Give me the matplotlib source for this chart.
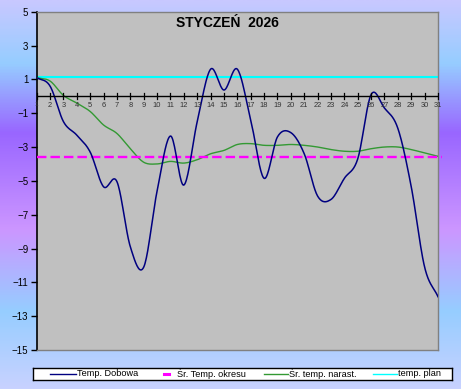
import numpy as np
import matplotlib
matplotlib.use("Agg")
import matplotlib.pyplot as plt
from matplotlib.colors import LinearSegmentedColormap

plt.rcParams['font.family'] = ['Liberation Sans', 'DejaVu Sans']
plt.rcParams['lines.scale_dashes'] = False

# Data
days = list(range(1, 32))
temp_dobowa = [1.1, 0.6, -1.5, -2.3, -3.3, -5.35, -5.05, -8.9, -10.1, -5.6,
               -2.35, -5.25, -1.5, 1.6, 0.37, 1.6, -1.4, -4.85, -2.4, -2.15,
               -3.4, -5.9, -6.1, -4.85, -3.7, 0.1, -0.7, -1.9, -5.35, -10.1,
               -11.85]
sr_narast = [1.1, 0.9, 0.05, -0.4, -0.9, -1.7, -2.2, -3.1, -3.9, -4.0,
             -3.85, -3.95, -3.75, -3.4, -3.2, -2.85, -2.8, -2.9, -2.9, -2.85,
             -2.9, -3.0, -3.15, -3.25, -3.25, -3.1, -3.0, -3.0, -3.15, -3.35,
             -3.55]
sr_okresu = -3.57
temp_plan = 1.15
title = "STYCZEŃ  2026"
labels = ["Temp. Dobowa", "Śr. Temp. okresu", "Śr. temp. narast.", "temp. plan"]


def smooth(x, y, n=20):
    # Catmull-Rom curve through the points, like Excel's smoothed line
    x = np.asarray(x, float)
    y = np.asarray(y, float)
    px = np.concatenate([[2 * x[0] - x[1]], x, [2 * x[-1] - x[-2]]])
    py = np.concatenate([[2 * y[0] - y[1]], y, [2 * y[-1] - y[-2]]])
    t = np.linspace(0, 1, n, endpoint=False)
    xs, ys = [], []
    for i in range(1, len(px) - 2):
        for p, out in ((px, xs), (py, ys)):
            p0, p1, p2, p3 = p[i - 1], p[i], p[i + 1], p[i + 2]
            out.extend(0.5 * (2 * p1 + (-p0 + p2) * t
                              + (2 * p0 - 5 * p1 + 4 * p2 - p3) * t ** 2
                              + (-p0 + 3 * p1 - 3 * p2 + p3) * t ** 3))
    xs.append(x[-1])
    ys.append(y[-1])
    return np.array(xs), np.array(ys)


fig = plt.figure(figsize=(4.61, 3.89), dpi=100)

# background gradient
bg = fig.add_axes([0, 0, 1, 1], zorder=-10)
bg_cmap = LinearSegmentedColormap.from_list("bg", [
    (0.0, (200/255, 200/255, 255/255)),
    (0.16, (150/255, 205/255, 255/255)),
    (0.34, (153/255, 102/255, 255/255)),
    (0.59, (204/255, 150/255, 255/255)),
    (0.80, (150/255, 205/255, 255/255)),
    (1.0, (200/255, 210/255, 255/255)),
])
bg.imshow(np.linspace(0, 1, 400).reshape(-1, 1), aspect='auto', cmap=bg_cmap,
          extent=[0, 1, 0, 1])
bg.set_axis_off()

W, H = 461, 389
left, right, top, bottom = 36.7, 438, 11.7, 350
ax = fig.add_axes([left / W, 1 - bottom / H, (right - left) / W, (bottom - top) / H])
ax.set_facecolor('#c0c0c0')
ax.set_xlim(1, 31)
ax.set_ylim(-15, 5)

xs, ys = smooth(days, temp_dobowa)
ax.plot(xs, ys, color='#000080', lw=1.1, zorder=4)
xs, ys = smooth(days, sr_narast)
ax.plot(xs, ys, color='#339933', lw=1.0, zorder=3)
ax.plot([1, 31.3], [sr_okresu, sr_okresu], color='#ff00ff', lw=1.7,
        dashes=(6.8, 2.9), zorder=3, clip_on=False)
ax.axhline(temp_plan, color='#00ffff', lw=1.5, zorder=2)

# x axis at zero
ax.axhline(0, color='black', lw=1.0, zorder=5)
for d in days:
    ax.plot([d, d], [-0.17, 0.17], color='black', lw=0.9, zorder=5, clip_on=False)
    ax.text(d, -0.35, str(d), ha='center', va='top', fontsize=5.4 if d > 1 else 4.5,
            color='#333333', zorder=6, clip_on=False)

ax.set_xticks([])
ax.set_yticks(range(-15, 6, 2))
ax.tick_params(axis='y', length=4, width=1, labelsize=7, pad=2, direction='out')
for s in ['top', 'right', 'bottom']:
    ax.spines[s].set_color('#808080')
    ax.spines[s].set_linewidth(1)
ax.spines['left'].set_color('black')
ax.spines['left'].set_linewidth(1.2)

fig.text(227.5 / W, 1 - 23.3 / H, title, ha='center', va='center',
         fontsize=10, fontweight='bold')

# legend
lax = fig.add_axes([33 / W, 1 - 379.5 / H, (452 - 33) / W, 11.5 / H])
lax.set_xlim(0, 419)
lax.set_ylim(0, 1)
lax.set_xticks([])
lax.set_yticks([])
lax.set_facecolor('white')
for s in lax.spines.values():
    s.set_linewidth(1)
    s.set_color('black')
lax.plot([17, 43], [0.5, 0.5], color='#000080', lw=1)
lax.text(44, 0.5, labels[0], va='center', fontsize=6.6)
lax.plot([131, 136], [0.5, 0.5], color='#ff00ff', lw=2.2)
lax.text(144, 0.5, labels[1], va='center', fontsize=6.6)
lax.plot([231, 255], [0.5, 0.5], color='#339933', lw=1)
lax.text(256, 0.5, labels[2], va='center', fontsize=6.6)
lax.plot([340, 364], [0.5, 0.5], color='#00ffff', lw=1)
lax.text(365, 0.5, labels[3], va='center', fontsize=6.6)

fig.savefig("out.png", dpi=100)
